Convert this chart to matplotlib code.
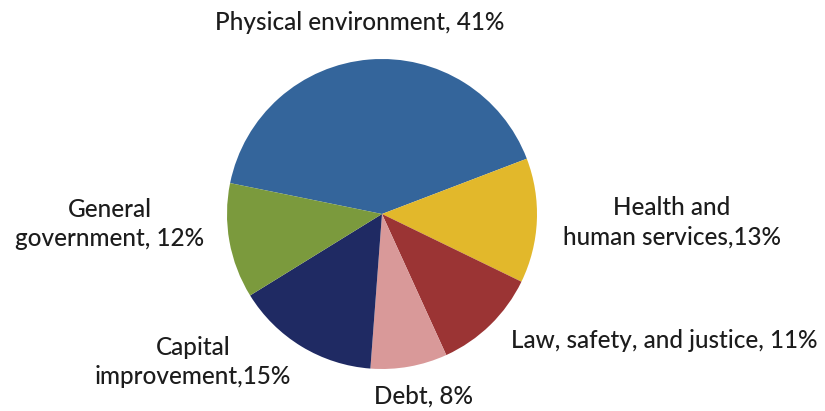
import matplotlib.pyplot as plt

categories = ["Physical environment", "Health and\nhuman services", "Law, safety, and justice",
              "Debt", "Capital\nimprovement", "General\ngovernment"]
shares = [41, 13, 11, 8, 15, 12]
colors = ["#34659b", "#e2b82b", "#9b3434", "#d99999", "#1f2a63", "#7b9a3d"]
seps = [", ", ",", ", ", ", ", ",", ", "]

W, H = 825, 411
fig = plt.figure(figsize=(W / 100, H / 100), dpi=100)

# pie centred at (382, 214) px with radius 155 px
cx, cy, r = 382, 214, 155
ax = fig.add_axes([(cx - r) / W, (H - cy - r) / H, 2 * r / W, 2 * r / H])
ax.pie(shares, colors=colors, startangle=168.5, counterclock=False,
       wedgeprops=dict(linewidth=0))
ax.set_xlim(-1, 1)
ax.set_ylim(-1, 1)
ax.set_aspect("equal")
ax.axis("off")

# label centres in pixels
label_pos = [(360, 22), (672, 222), (664, 340), (423, 396), (193, 362), (110, 224)]
for name, val, sep, (px, py) in zip(categories, shares, seps, label_pos):
    fig.text(px / W, 1 - py / H, f"{name}{sep}{val}%", ha="center", va="center",
             fontsize=17.5, family="Lato", fontweight="medium", color="#1c1c1c",
             linespacing=1.35)

fig.savefig("out.png", dpi=100)
